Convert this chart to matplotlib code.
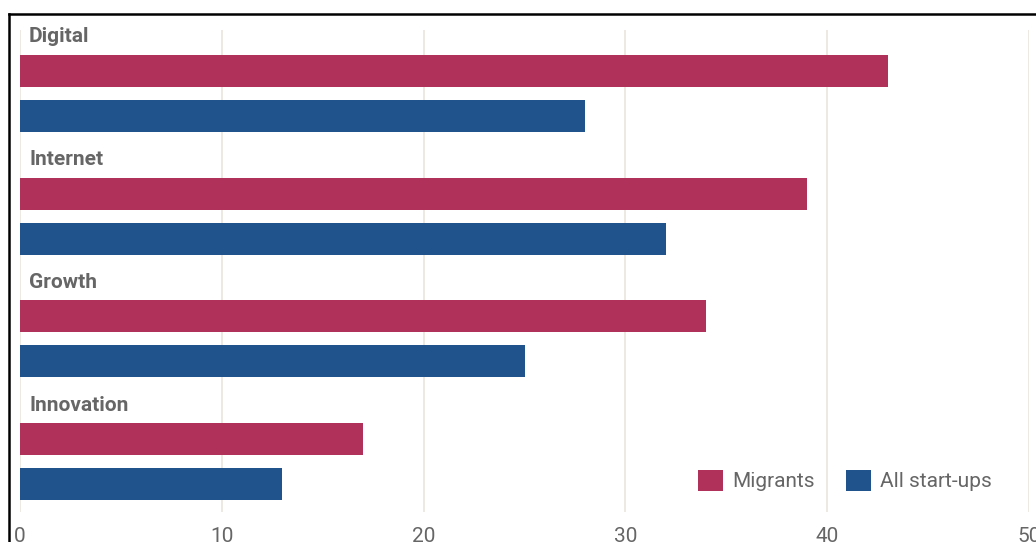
import matplotlib
matplotlib.use("Agg")
import matplotlib.pyplot as plt
import numpy as np
from matplotlib.lines import Line2D
from matplotlib.patches import Patch

# ---------------- data ----------------
categories = ["Digital", "Internet", "Growth", "Innovation"]
migrants = [43, 39, 34, 17]
all_startups = [28, 32, 25, 13]
series_names = ["Migrants", "All start-ups"]
xticks = [0, 10, 20, 30, 40, 50]

MAGENTA = "#b0315a"
BLUE = "#20538b"
GRID = "#ebe4dd"
TEXT = "#666666"

plt.rcParams["font.family"] = ["Roboto", "DejaVu Sans"]

fig = plt.figure(figsize=(10.36, 5.42), dpi=100)
ax = fig.add_axes([20 / 1036, 1 - 512 / 542, 1009 / 1036, 482 / 542])

# one unit = spacing between groups; bars placed relative to group index
idx = np.arange(len(categories))
bar_h = 0.26
offset = 0.367
ax.barh(idx, migrants, height=bar_h, color=MAGENTA, zorder=2)
ax.barh(idx + offset, all_startups, height=bar_h, color=BLUE, zorder=2)

for i, name in enumerate(categories):
    ax.text(0.45, i - 0.277, name, fontsize=15, fontweight="bold",
            color=TEXT, va="center", ha="left", zorder=3)

ax.set_xlim(0, 50)
ax.set_ylim(3.594, -0.334)
ax.set_xticks(xticks)
ax.set_xticklabels([str(t) for t in xticks], fontsize=15, color=TEXT)
ax.set_yticks([])
ax.tick_params(axis="x", length=0, pad=10.5)
ax.grid(axis="x", color=GRID, linewidth=1.2, zorder=0)
for s in ax.spines.values():
    s.set_visible(False)

handles = [Patch(facecolor=MAGENTA, edgecolor="none"),
           Patch(facecolor=BLUE, edgecolor="none")]
leg = ax.legend(handles, series_names, loc="center left", ncol=2,
                bbox_to_anchor=(698 / 1036, 1 - 480.5 / 542),
                bbox_transform=fig.transFigure, frameon=False,
                fontsize=15, handlelength=1.2, handleheight=1.2,
                handletextpad=0.45, columnspacing=1.5, borderpad=0,
                borderaxespad=0)
for t in leg.get_texts():
    t.set_color(TEXT)

# screenshot frame (top and left edges)
fig.add_artist(Line2D([9 / 1036, 1], [1 - 14 / 542, 1 - 14 / 542],
                      color="black", linewidth=1.8, transform=fig.transFigure))
fig.add_artist(Line2D([9 / 1036, 9 / 1036], [0, 1 - 14 / 542],
                      color="black", linewidth=1.8, transform=fig.transFigure))

fig.savefig("out.png", dpi=100)
